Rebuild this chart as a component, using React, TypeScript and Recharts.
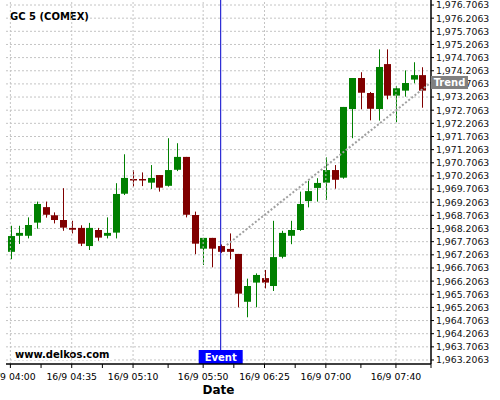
import {
  ComposedChart,
  Bar,
  XAxis,
  YAxis,
  CartesianGrid,
  ReferenceLine,
} from 'recharts';

const times = [
  '04:00', '04:05', '04:10', '04:15', '04:20', '04:25', '04:30', '04:35',
  '04:40', '04:45', '04:50', '04:55', '05:00', '05:05', '05:10', '05:15',
  '05:20', '05:25', '05:30', '05:35', '05:40', '05:45', '05:50', '05:55',
  '06:00', '06:05', '06:10', '06:15', '06:20', '06:25', '06:30', '06:35',
  '06:40', '06:45', '06:50', '06:55', '07:00', '07:05', '07:10', '07:15',
  '07:20', '07:25', '07:30', '07:35', '07:40', '07:45', '07:50', '07:55',
];

const open = [
  1967.32, 1967.93, 1967.93, 1968.43, 1969.02, 1968.71, 1968.53, 1968.23,
  1968.23, 1967.54, 1968.15, 1967.93, 1968.05, 1969.53, 1970.09, 1970.09,
  1969.95, 1970.24, 1969.83, 1970.44, 1970.93, 1968.72, 1967.44, 1967.85,
  1967.54, 1967.43, 1967.24, 1965.42, 1966.15, 1966.32, 1966.02, 1967.13,
  1967.93, 1968.15, 1969.25, 1969.75, 1969.95, 1970.43, 1970.14, 1972.75,
  1973.93, 1973.36, 1972.75, 1974.46, 1973.26, 1973.45, 1973.87, 1974.04,
];

const high = [
  1968.31, 1968.31, 1968.63, 1969.23, 1969.23, 1968.82, 1969.74, 1968.5,
  1968.33, 1968.42, 1968.23, 1968.63, 1969.93, 1971.03, 1970.43, 1970.34,
  1970.62, 1970.24, 1971.64, 1971.45, 1970.93, 1968.85, 1967.85, 1967.85,
  1967.6, 1968.02, 1967.24, 1966.3, 1966.5, 1966.63, 1968.5, 1968.12,
  1968.5, 1969.61, 1970.02, 1970.12, 1970.91, 1970.62, 1972.83, 1973.93,
  1974.15, 1973.4, 1975.02, 1975.02, 1973.63, 1974.22, 1974.53, 1974.34,
];

const low = [
  1967.04, 1967.62, 1967.83, 1968.2, 1968.62, 1968.4, 1968.12, 1968.02,
  1967.54, 1967.39, 1967.74, 1967.83, 1967.83, 1969.48, 1969.8, 1969.82,
  1969.71, 1969.61, 1969.8, 1970.39, 1968.63, 1967.23, 1966.82, 1966.73,
  1967.28, 1967.04, 1965.21, 1964.83, 1965.21, 1965.93, 1965.83, 1967.07,
  1967.61, 1968.12, 1969.01, 1969.23, 1969.29, 1969.72, 1970.1, 1971.64,
  1972.74, 1972.32, 1972.31, 1973.12, 1972.25, 1973.22, 1973.73, 1972.8,
];

const close = [
  1967.92, 1968.04, 1968.34, 1969.14, 1968.73, 1968.53, 1968.24, 1968.16,
  1967.63, 1968.23, 1967.86, 1968.04, 1969.52, 1970.13, 1970.05, 1970.05,
  1970.13, 1969.76, 1970.43, 1970.93, 1968.73, 1967.63, 1967.85, 1967.44,
  1967.32, 1967.32, 1965.73, 1966.02, 1966.44, 1966.15, 1967.12, 1968.04,
  1968.15, 1969.14, 1969.63, 1969.94, 1970.43, 1970.06, 1972.83, 1973.93,
  1973.37, 1972.76, 1974.35, 1973.26, 1973.54, 1973.74, 1974.04, 1973.45,
];

const yTicks = [
  1963.2063, 1963.7063, 1964.2063, 1964.7063, 1965.2063, 1965.7063, 1966.2063,
  1966.7063, 1967.2063, 1967.7063, 1968.2063, 1968.7063, 1969.2063, 1969.7063,
  1970.2063, 1970.7063, 1971.2063, 1971.7063, 1972.2063, 1972.7063, 1973.2063,
  1973.7063, 1974.2063, 1974.7063, 1975.2063, 1975.7063, 1976.2063, 1976.7063,
];

// candle indexes that carry a date label, and the minor ticks between them
const majorTicks = [0, 7, 14, 22, 29, 36, 44];
const minorTicks = [3.5, 10.5, 18, 25.5, 32.5, 40, 48];

const eventIndex = 24;
const trendStart = { x: 24.7, y: 1967.58 };
const trendEnd = { x: 48, y: 1973.76 };

const FONT = 'DejaVu Sans';
const GREEN = '#008000';
const RED = '#800000';

const data = times.map((t, i) => ({
  time: t,
  idx: i,
  open: open[i],
  close: close[i],
  high: high[i],
  low: low[i],
  range: [low[i], high[i]],
}));

const Candle = (props: any) => {
  let { x, y, width, height } = props;
  const { open, close, high, low } = props.payload;
  if (height < 0) {
    y += height;
    height = -height;
  }
  const color = close >= open ? GREEN : RED;
  const k = height / (high - low);
  const yo = y + (high - open) * k;
  const yc = y + (high - close) * k;
  const cx = Math.round(x + width / 2) + 0.5;
  return (
    <g>
      <line x1={cx} x2={cx} y1={y} y2={y + height} stroke={color} strokeWidth={1} />
      <rect
        x={cx - 3.5}
        y={Math.min(yo, yc)}
        width={7}
        height={Math.max(Math.abs(yo - yc), 1.5)}
        fill={color}
      />
    </g>
  );
};

const XTick = (props: any) => {
  const { x, y, payload } = props;
  const i = majorTicks.indexOf(payload.value);
  return (
    <g>
      <line x1={x} x2={x} y1={y} y2={y + 4} stroke="#000" />
      {i >= 0 && (
        <text x={x} y={y + 16} textAnchor="middle" fontSize={9.3} fontFamily={FONT} fill="#000">
          {'16/9 ' + times[majorTicks[i]]}
        </text>
      )}
    </g>
  );
};

const fmt = (v: number) =>
  v.toLocaleString('en-US', { minimumFractionDigits: 4, maximumFractionDigits: 4 });

// price labels; the trend end value is the last tick so its tag paints on top
const YTick = (props: any) => {
  const { x, y, payload } = props;
  if (payload.value === trendEnd.y) {
    return (
      <g>
        <rect x={x - 5} y={y - 6.5} width={37} height={13} fill="#808080" />
        <text x={x + 13.5} y={y + 3.5} textAnchor="middle" fontSize={10} fontWeight="bold" fontFamily={FONT} fill="#fff">
          Trend
        </text>
      </g>
    );
  }
  return (
    <g>
      <line x1={x - 5} x2={x - 2} y1={y} y2={y} stroke="#000" />
      <text x={x} y={y + 3.4} fontSize={9.3} fontFamily={FONT} fill="#111">
        {fmt(payload.value)}
      </text>
    </g>
  );
};

const EventLabel = (props: any) => {
  const { x, y, height } = props.viewBox;
  const b = y + height;
  return (
    <g>
      <rect x={x - 22} y={b - 14} width={44} height={14} fill="#0000ff" />
      <text x={x} y={b - 3.5} textAnchor="middle" fontSize={10} fontWeight="bold" fontFamily={FONT} fill="#fff">
        Event
      </text>
    </g>
  );
};

export default function App() {
  return (
    <div style={{ position: 'absolute', left: 0, top: 0, background: '#fff' }}>
      <ComposedChart
        width={500}
        height={400}
        data={data}
        margin={{ top: 0, right: 0, bottom: 0, left: 6 }}
      >
        <CartesianGrid
          xAxisId="num"
          vertical={false}
          horizontalValues={yTicks}
          stroke="#c4c4c4"
          strokeDasharray="2 2"
        />
        <XAxis
          xAxisId="num"
          dataKey="idx"
          type="number"
          domain={[-0.5, 48]}
          allowDataOverflow
          ticks={[...majorTicks, ...minorTicks].sort((a, b) => a - b)}
          interval={0}
          height={36}
          tickSize={0}
          tickMargin={0}
          tick={<XTick />}
          axisLine={{ stroke: '#000', strokeWidth: 1.5 }}
          label={{
            value: 'Date',
            position: 'insideBottom',
            offset: 6,
            style: { fontFamily: FONT, fontSize: 12, fontWeight: 'bold', fill: '#000' },
          }}
        />
        <XAxis xAxisId="cat" dataKey="time" hide height={0} padding={{ left: 0, right: 4.4 }} />
        <YAxis
          orientation="right"
          type="number"
          domain={[1963.054, 1976.897]}
          allowDataOverflow
          ticks={[...yTicks, trendEnd.y]}
          interval={0}
          width={69}
          tickSize={3}
          tickMargin={2}
          tick={<YTick />}
          tickLine={false}
          axisLine={{ stroke: '#000', strokeWidth: 1.5 }}
        />
        {majorTicks.map((t) => (
          <ReferenceLine key={t} xAxisId="num" x={t} stroke="#c4c4c4" strokeDasharray="2 2" />
        ))}
        <ReferenceLine
          xAxisId="num"
          segment={[trendStart, trendEnd]}
          stroke="#a0a0a0"
          strokeWidth={2}
          strokeDasharray="2 2"
        />
        <Bar
          xAxisId="cat"
          dataKey="range"
          barSize={7}
          shape={<Candle />}
          isAnimationActive={false}
        />
        <ReferenceLine
          xAxisId="num"
          x={eventIndex}
          stroke="#0000cc"
          strokeWidth={1}
          label={<EventLabel />}
        />
        <rect x={8} y={9} width={82} height={15} fill="#fff" />
        <text x={10} y={20} fontSize={10} fontWeight="bold" fontFamily={FONT} fill="#000">
          GC 5 (COMEX)
        </text>
        <rect x={13} y={348} width={99} height={12} fill="#fff" />
        <text x={15} y={358} fontSize={10} fontWeight="bold" fontFamily={FONT} fill="#000">
          www.delkos.com
        </text>
      </ComposedChart>
    </div>
  );
}
